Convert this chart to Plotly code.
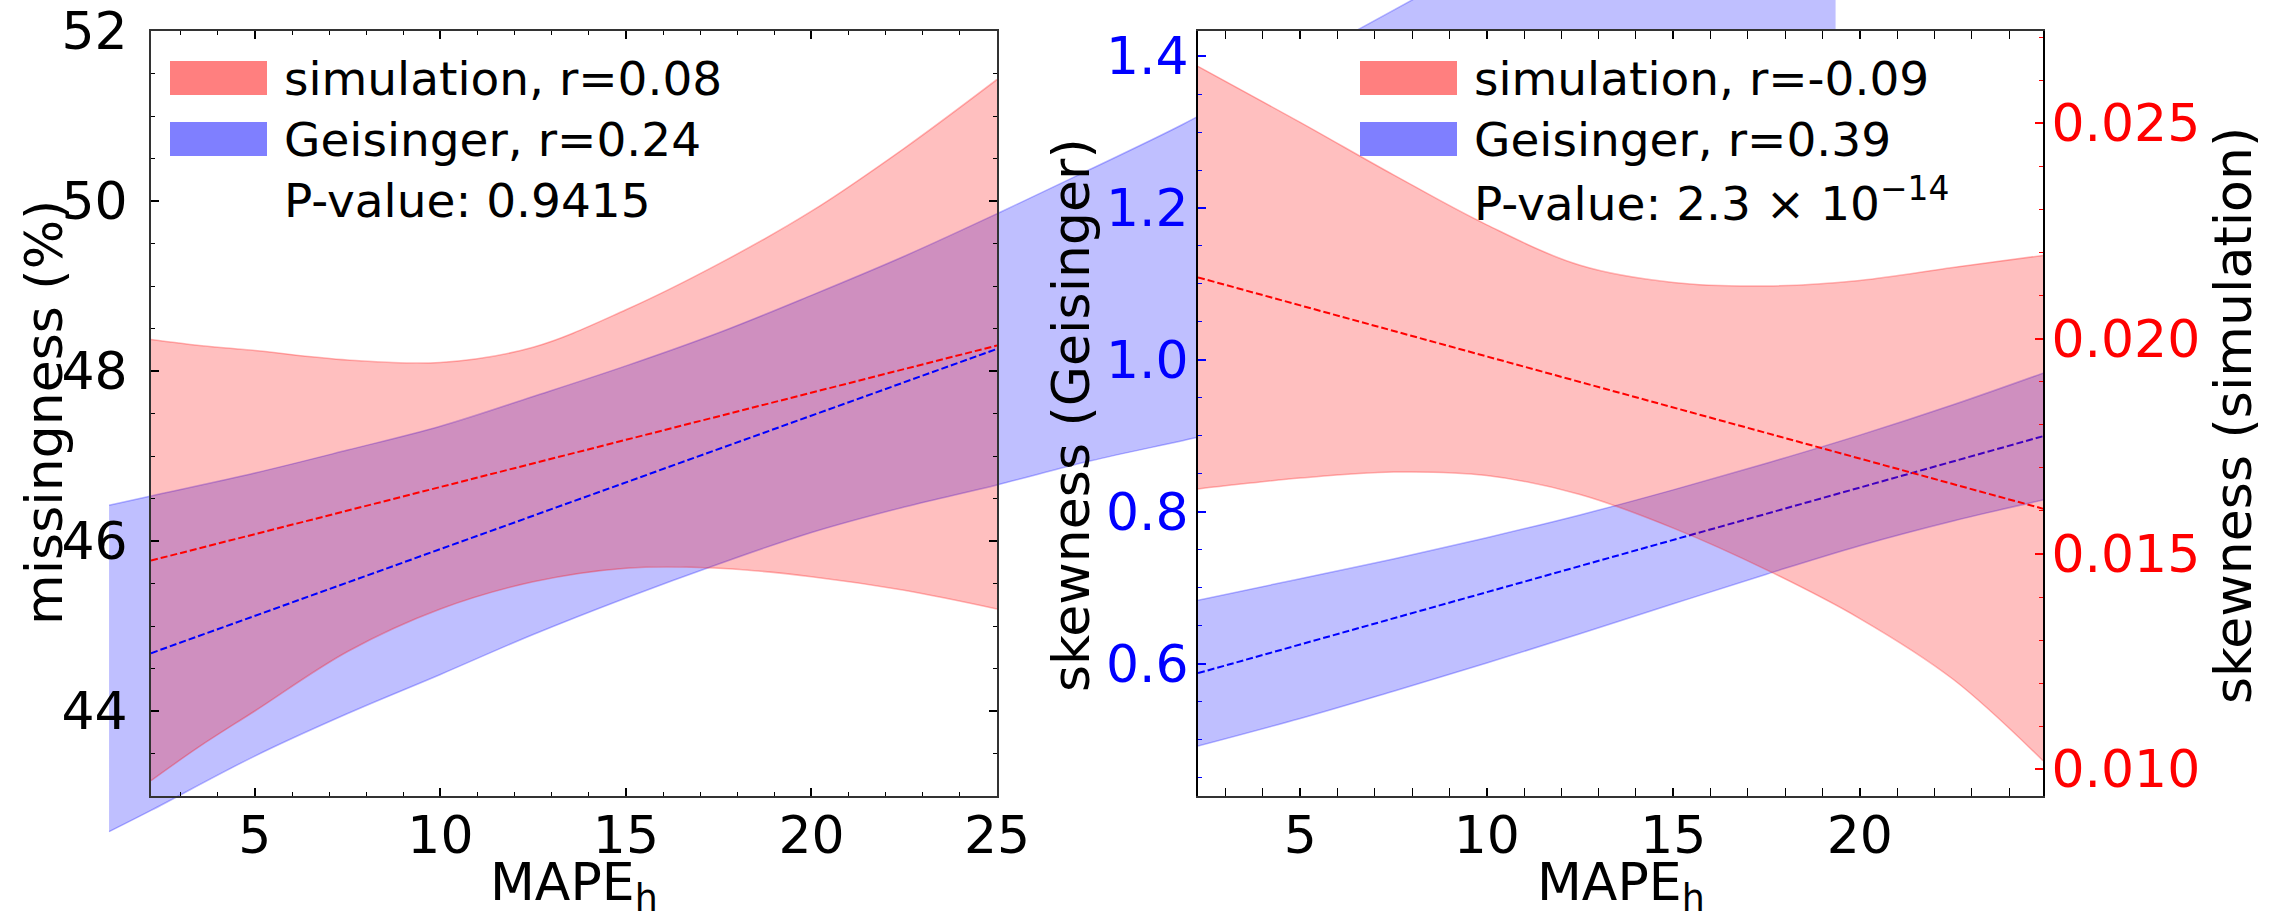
import plotly.graph_objects as go

W, H = 2282, 914

# ---------------- data ----------------
# Left panel: missingness (%) vs MAPE_h
left_x_range = [2.2, 25.0]
left_y_range = [43.0, 52.0]

sim_miss_x = [2.2, 3.5, 5, 7.5, 10, 12.5, 15, 17.5, 20, 22.5, 25]
sim_miss_upper = [48.37, 48.30, 48.24, 48.13, 48.10, 48.28, 48.72, 49.26, 49.88, 50.62, 51.43]
sim_miss_lower = [43.18, 43.58, 44.00, 44.70, 45.20, 45.52, 45.68, 45.68, 45.58, 45.42, 45.20]
sim_miss_fit_x = [2.2, 25.0]
sim_miss_fit_y = [45.77, 48.30]

geis_miss_x = [1.07, 2.2, 5, 7.5, 10, 12.5, 15, 17.5, 20, 22.5, 25,
               27.5, 30, 32.5, 35, 37.5, 40, 43, 47.6]
geis_miss_upper = [46.42, 46.53, 46.80, 47.07, 47.35, 47.70, 48.06, 48.45, 48.89, 49.35, 49.85,
                   50.37, 50.90, 51.49, 52.08, 52.68, 53.28, 53.95, 54.99]
geis_miss_lower = [42.58, 42.83, 43.47, 43.97, 44.43, 44.90, 45.33, 45.73, 46.10, 46.40, 46.66,
                   46.94, 47.18, 47.42, 47.63, 47.84, 48.04, 48.27, 48.63]
geis_miss_fit_x = [2.2, 25.0]
geis_miss_fit_y = [44.68, 48.26]

# Right panel: skewness vs MAPE_h
right_x_range = [2.26, 24.91]
right_geis_range = [0.426, 1.433]
right_sim_range = [0.00938, 0.02714]

geis_skew_x = [2.26, 5, 7.5, 10, 12.5, 15, 17.5, 20, 22.5, 24.91]
geis_skew_upper = [0.6837, 0.7120, 0.7380, 0.7660, 0.7960, 0.8290, 0.8640, 0.9010, 0.9410, 0.9826]
geis_skew_lower = [0.4917, 0.5280, 0.5640, 0.6010, 0.6395, 0.6790, 0.7180, 0.7555, 0.7880, 0.8155]
geis_skew_fit_x = [2.26, 24.91]
geis_skew_fit_y = [0.5877, 0.8996]

sim_skew_x = [2.26, 5, 7.5, 10, 12.5, 15, 17.5, 20, 22.5, 24.91]
sim_skew_upper = [0.02632, 0.02502, 0.02380, 0.02264, 0.02170, 0.02130, 0.02122, 0.02135, 0.02165, 0.02193]
sim_skew_lower = [0.01651, 0.01676, 0.01690, 0.01682, 0.01638, 0.01560, 0.01463, 0.01350, 0.01209, 0.01020]
sim_skew_fit_x = [2.26, 24.91]
sim_skew_fit_y = [0.02142, 0.01605]

left_legend = ["simulation, r=0.08", "Geisinger, r=0.24", "P-value: 0.9415"]
right_legend = ["simulation, r=-0.09", "Geisinger, r=0.39", "P-value: 2.3 × 10<sup>−14</sup>"]

# ---------------- layout geometry (pixels) ----------------
L_X0, L_X1 = 151, 997
R_X0, R_X1 = 1198, 2043
Y_TOP, Y_BOT = 31, 796

def px(x):
    return x / W

def py(y):
    return 1 - y / H

RED_FILL = "rgba(255,0,0,0.25)"
RED_EDGE = "rgba(255,0,0,0.28)"
BLUE_FILL = "rgba(0,0,255,0.25)"
BLUE_EDGE = "rgba(0,0,255,0.28)"
FONT = "DejaVu Sans"
TICK_SIZE = 52

fig = go.Figure()

def band(x, lo, up, fill, edge, xa, ya):
    fig.add_trace(go.Scatter(x=x, y=lo, mode="lines", line=dict(color=edge, width=1.5, shape="spline"),
                             xaxis=xa, yaxis=ya, showlegend=False, hoverinfo="skip"))
    fig.add_trace(go.Scatter(x=x, y=up, mode="lines", line=dict(color=edge, width=1.5, shape="spline"),
                             fill="tonexty", fillcolor=fill,
                             xaxis=xa, yaxis=ya, showlegend=False, hoverinfo="skip"))

def fit(x, y, color, xa, ya):
    fig.add_trace(go.Scatter(x=x, y=y, mode="lines", line=dict(color=color, width=2, dash="7px,3px"),
                             xaxis=xa, yaxis=ya, showlegend=False, hoverinfo="skip"))

# full-figure axis (same scale as left panel, not clipped to it)
band(geis_miss_x, geis_miss_lower, geis_miss_upper, BLUE_FILL, BLUE_EDGE, "x", "y")
# left panel
band(sim_miss_x, sim_miss_lower, sim_miss_upper, RED_FILL, RED_EDGE, "x2", "y2")
fit(sim_miss_fit_x, sim_miss_fit_y, "#ff0000", "x2", "y2")
fit(geis_miss_fit_x, geis_miss_fit_y, "#0000ff", "x2", "y2")
# right panel
band(geis_skew_x, geis_skew_lower, geis_skew_upper, BLUE_FILL, BLUE_EDGE, "x3", "y3")
fit(geis_skew_fit_x, geis_skew_fit_y, "#0000ff", "x3", "y3")
band(sim_skew_x, sim_skew_lower, sim_skew_upper, RED_FILL, RED_EDGE, "x3", "y4")
fit(sim_skew_fit_x, sim_skew_fit_y, "#ff0000", "x3", "y4")

# full-figure axis ranges extrapolated from the left panel scale
ux = (left_x_range[1] - left_x_range[0]) / (L_X1 - L_X0)
uy = (left_y_range[1] - left_y_range[0]) / (Y_BOT - Y_TOP)
full_x = [left_x_range[0] - L_X0 * ux, left_x_range[1] + (W - L_X1) * ux]
full_y = [left_y_range[0] - (H - Y_BOT) * uy, left_y_range[1] + Y_TOP * uy]

def xaxis_style(rng, dom, anchor):
    return dict(domain=dom, range=rng, anchor=anchor, tickmode="linear", tick0=0, dtick=5,
                ticks="inside", ticklen=8, tickwidth=1.5, tickcolor="black",
                minor=dict(tick0=0, dtick=1, ticks="inside", ticklen=4, tickwidth=1.2, tickcolor="black"),
                showline=True, linecolor="#333", linewidth=2, mirror="allticks",
                showgrid=False, zeroline=False, ticklabelstandoff=-7, automargin=False,
                tickfont=dict(family=FONT, size=TICK_SIZE, color="black"), fixedrange=True)

dom_y = [py(Y_BOT), py(Y_TOP)]
fig.update_layout(
    width=W, height=H, margin=dict(l=0, r=0, t=0, b=0, autoexpand=False),
    paper_bgcolor="white", plot_bgcolor="rgba(0,0,0,0)", showlegend=False,
    font=dict(family=FONT, size=TICK_SIZE, color="black"),
    xaxis=dict(domain=[0, 1], range=full_x, visible=False, anchor="y", fixedrange=True, automargin=False),
    yaxis=dict(domain=[0, 1], range=full_y, visible=False, anchor="x", fixedrange=True, automargin=False),
    xaxis2=xaxis_style(left_x_range, [px(L_X0), px(L_X1)], "y2"),
    yaxis2=dict(domain=dom_y, range=left_y_range, anchor="x2", tickmode="linear", tick0=0, dtick=2,
                ticks="inside", ticklen=8, tickwidth=1.5, tickcolor="black",
                minor=dict(tick0=0, dtick=0.5, ticks="inside", ticklen=4, tickwidth=1.2, tickcolor="black"),
                showline=True, linecolor="#333", linewidth=2, mirror="allticks",
                showgrid=False, zeroline=False, ticklabelstandoff=11, automargin=False,
                tickfont=dict(family=FONT, size=TICK_SIZE, color="black"), fixedrange=True),
    xaxis3=xaxis_style(right_x_range, [px(R_X0), px(R_X1)], "y3"),
    yaxis3=dict(domain=dom_y, range=right_geis_range, anchor="x3", tickmode="linear", tick0=0, dtick=0.2,
                tickformat=".1f", ticks="inside", ticklen=8, tickwidth=1.5, tickcolor="blue",
                minor=dict(tick0=0, dtick=0.05, ticks="inside", ticklen=4, tickwidth=1.2, tickcolor="blue"),
                showline=True, linecolor="black", linewidth=2, mirror=True,
                showgrid=False, zeroline=False, ticklabelstandoff=-3, automargin=False,
                tickfont=dict(family=FONT, size=TICK_SIZE, color="blue"), fixedrange=True),
    yaxis4=dict(domain=dom_y, range=right_sim_range, anchor="x3", overlaying="y3", side="right",
                tickmode="linear", tick0=0, dtick=0.005, tickformat=".3f",
                ticks="inside", ticklen=8, tickwidth=1.5, tickcolor="red",
                minor=dict(tick0=0, dtick=0.001, ticks="inside", ticklen=4, tickwidth=1.2, tickcolor="red"),
                showline=True, linecolor="black", linewidth=2,
                showgrid=False, zeroline=False, ticklabelstandoff=-4, automargin=False,
                tickfont=dict(family=FONT, size=TICK_SIZE, color="red"), fixedrange=True),
)

# white background of the right panel, hiding the out-of-axes band of the left panel
fig.add_shape(type="rect", xref="x3", yref="y3", layer="below",
              x0=right_x_range[0] - 1, x1=right_x_range[1] + 1,
              y0=right_geis_range[0] - 1, y1=right_geis_range[1] + 1,
              fillcolor="white", line=dict(width=0))

# legends (patches + texts)
LEG_SIZE = 47
for (x0, texts) in ((170, left_legend), (1360, right_legend)):
    for i, col in enumerate(["rgba(255,0,0,0.5)", "rgba(0,0,255,0.5)"]):
        fig.add_shape(type="rect", xref="paper", yref="paper", layer="above",
                      x0=px(x0), x1=px(x0 + 97), y0=py(61 + 61 * i + 34), y1=py(61 + 61 * i),
                      fillcolor=col, line=dict(width=0))
    for i, t in enumerate(texts):
        fig.add_annotation(text=t, xref="paper", yref="paper", x=px(x0 + 112), y=py(78 + 61 * i),
                           xanchor="left", yanchor="middle", showarrow=False,
                           font=dict(family=FONT, size=LEG_SIZE, color="black"))

# axis titles
LAB = 52
fig.add_annotation(text="missingness (%)", xref="paper", yref="paper", x=px(44), y=py(413),
                   textangle=-90, showarrow=False, xanchor="center", yanchor="middle",
                   font=dict(family=FONT, size=LAB, color="black"))
fig.add_annotation(text="skewness (Geisinger)", xref="paper", yref="paper", x=px(1071), y=py(415),
                   textangle=-90, showarrow=False, xanchor="center", yanchor="middle",
                   font=dict(family=FONT, size=LAB, color="black"))
fig.add_annotation(text="skewness (simulation)", xref="paper", yref="paper", x=px(2233), y=py(416),
                   textangle=-90, showarrow=False, xanchor="center", yanchor="middle",
                   font=dict(family=FONT, size=LAB, color="black"))
for cx in ((L_X0 + L_X1) / 2, (R_X0 + R_X1) / 2):
    fig.add_annotation(text="MAPE<sub>h</sub>", xref="paper", yref="paper", x=px(cx), y=py(886),
                       showarrow=False, xanchor="center", yanchor="middle",
                       font=dict(family=FONT, size=LAB, color="black"))

fig.write_html("out.html")
